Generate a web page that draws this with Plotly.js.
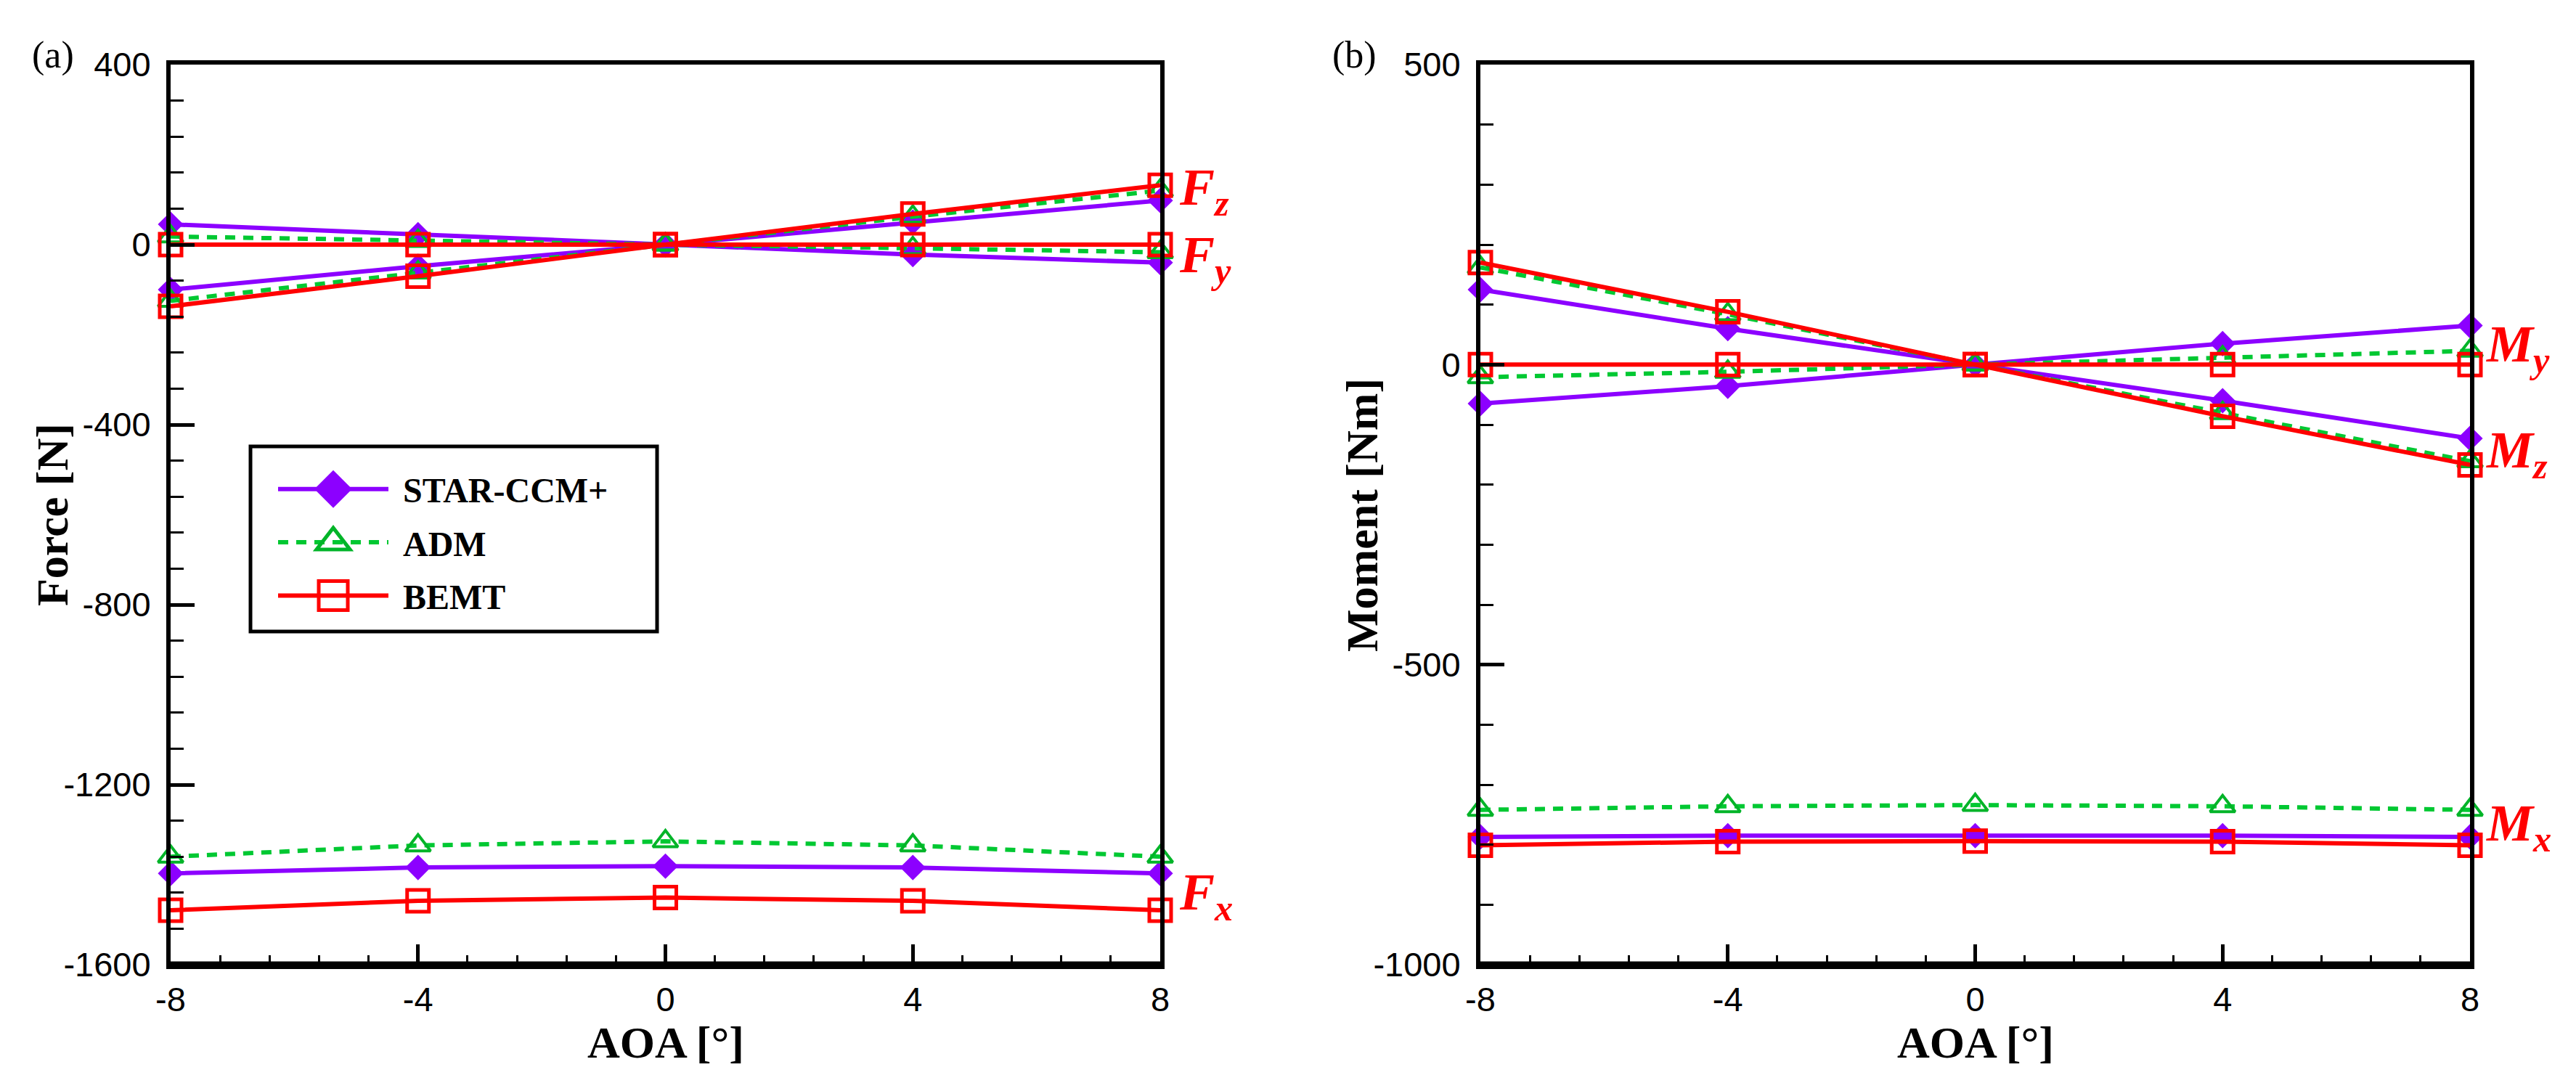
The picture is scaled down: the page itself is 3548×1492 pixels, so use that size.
<!DOCTYPE html>
<html>
<head>
<meta charset="utf-8">
<script src="https://cdn.plot.ly/plotly-3.0.1.min.js"></script>
<style>
  html, body { margin: 0; padding: 0; background: #fff; }
  #chart { width: 3548px; height: 1492px; }
</style>
</head>
<body>
<div id="chart"></div>
<script>
// ---------- data ----------
const aoa = [-8, -4, 0, 4, 8];
const xTickVals = [-8, -4, 0, 4, 8];
const xTickText = ['-8', '-4', '0', '4', '8'];
const forceTickVals = [-1600, -1200, -800, -400, 0, 400];
const forceTickText = ['-1600', '-1200', '-800', '-400', '0', '400'];
const momentTickVals = [-1000, -500, 0, 500];
const momentTickText = ['-1000', '-500', '0', '500'];

// (a) Forces [N]
const starFx = [-1397, -1384, -1381, -1384, -1397];
const admFx  = [-1360, -1335, -1326, -1335, -1360];
const bemtFx = [-1479, -1458, -1451, -1458, -1479];
const starFy = [45, 22, 0, -22, -40];
const admFy  = [18, 8, 0, -8, -17];
const bemtFy = [0, 0, 0, 0, 0];
const starFz = [-100, -48, 0, 50, 98];
const admFz  = [-125, -62, 0, 62, 120];
const bemtFz = [-137, -70, 0, 68, 132];

// (b) Moments [Nm]
const starMx = [-787, -785, -785, -785, -787];
const admMx  = [-742, -736, -734, -736, -742];
const bemtMx = [-801, -795, -794, -795, -801];
const starMy = [-65, -36, 0, 35, 65];
const admMy  = [-21, -12, 0, 12, 23];
const bemtMy = [0, 0, 0, 0, 0];
const starMz = [125, 60, 0, -60, -123];
const admMz  = [162, 84, 0, -81, -161];
const bemtMz = [170, 88, 0, -86, -167];

const forceLabels = ['F<sub>z</sub>', 'F<sub>y</sub>', 'F<sub>x</sub>'];
const forceLabelY = [120, -30, -1447];
const momentLabels = ['M<sub>y</sub>', 'M<sub>z</sub>', 'M<sub>x</sub>'];
const momentLabelY = [28, -148, -770];

// ---------- styles ----------
const PURPLE = '#8C00FF';
const GREEN = '#00C832';
const GREEN_MK = '#00B428';
const RED = '#FF0000';

const styles = {
  'STAR-CCM+': {
    line: {color: PURPLE, width: 6},
    marker: {symbol: 'diamond', size: 27, color: PURPLE, line: {width: 0}}
  },
  'ADM': {
    line: {color: GREEN, width: 6, dash: '14px,11px'},
    marker: {symbol: 'triangle-up-open', size: 30, color: GREEN_MK, line: {width: 4, color: GREEN_MK}}
  },
  'BEMT': {
    line: {color: RED, width: 6},
    marker: {symbol: 'square-open', size: 30, color: RED, line: {width: 5, color: RED}}
  }
};

function mk(name, x, y, xa, ya, show) {
  const s = styles[name];
  return {
    type: 'scatter', x: x, y: y, xaxis: xa, yaxis: ya,
    name: name, legendgroup: name, showlegend: show,
    mode: 'lines+markers', line: s.line, marker: s.marker, cliponaxis: false,
    hoverinfo: 'skip'
  };
}

const traces = [
  mk('STAR-CCM+', aoa, starFx, 'x', 'y', true),
  mk('STAR-CCM+', aoa, starFy, 'x', 'y', false),
  mk('STAR-CCM+', aoa, starFz, 'x', 'y', false),
  mk('ADM', aoa, admFx, 'x', 'y', true),
  mk('ADM', aoa, admFy, 'x', 'y', false),
  mk('ADM', aoa, admFz, 'x', 'y', false),
  mk('BEMT', aoa, bemtFx, 'x', 'y', true),
  mk('BEMT', aoa, bemtFy, 'x', 'y', false),
  mk('BEMT', aoa, bemtFz, 'x', 'y', false),
  mk('STAR-CCM+', aoa, starMx, 'x2', 'y2', false),
  mk('STAR-CCM+', aoa, starMy, 'x2', 'y2', false),
  mk('STAR-CCM+', aoa, starMz, 'x2', 'y2', false),
  mk('ADM', aoa, admMx, 'x2', 'y2', false),
  mk('ADM', aoa, admMy, 'x2', 'y2', false),
  mk('ADM', aoa, admMz, 'x2', 'y2', false),
  mk('BEMT', aoa, bemtMx, 'x2', 'y2', false),
  mk('BEMT', aoa, bemtMy, 'x2', 'y2', false),
  mk('BEMT', aoa, bemtMz, 'x2', 'y2', false)
];

// ---------- layout ----------
const W = 3548, H = 1492;
const SERIF = 'Liberation Serif, Times New Roman, serif';
const tickFont = {family: 'Liberation Sans, Arial, sans-serif', size: 47, color: '#000'};
const titleFont = {family: SERIF, size: 62, color: '#000', weight: 'bold'};

function xAxis(domain, anchor) {
  return {
    domain: domain, anchor: anchor, range: [-8, 8],
    tickmode: 'array', tickvals: xTickVals, ticktext: xTickText,
    ticks: 'inside', ticklen: 28, tickwidth: 5, tickcolor: '#000',
    minor: {dtick: 0.8, tick0: -8, ticks: 'inside', ticklen: 13, tickwidth: 3, tickcolor: '#000', showgrid: false},
    showline: true, linewidth: 6, linecolor: '#000', mirror: true,
    showgrid: false, zeroline: false,
    tickfont: tickFont, ticklabelstandoff: 2,
    automargin: false
  };
}
function yAxis(domain, anchor, range, vals, text, mdtick) {
  return {
    domain: domain, anchor: anchor, range: range,
    tickmode: 'array', tickvals: vals, ticktext: text,
    ticks: 'inside', ticklen: 33, tickwidth: 5, tickcolor: '#000',
    minor: {dtick: mdtick, tick0: 0, ticks: 'inside', ticklen: 18, tickwidth: 3, tickcolor: '#000', showgrid: false},
    showline: true, linewidth: 6, linecolor: '#000', mirror: true,
    showgrid: false, zeroline: false,
    tickfont: tickFont, ticklabelstandoff: 12,
    automargin: false
  };
}

const yDom = [1 - 1329 / H, 1 - 89 / H];
const labelFont = {family: SERIF, size: 72, color: RED, weight: 'bold', style: 'italic'};

const annotations = [];
forceLabels.forEach((t, i) => annotations.push({
  xref: 'x', yref: 'y', x: 8, y: forceLabelY[i], xanchor: 'left', yanchor: 'middle',
  xshift: 24, text: t, showarrow: false, font: labelFont
}));
momentLabels.forEach((t, i) => annotations.push({
  xref: 'x2', yref: 'y2', x: 8, y: momentLabelY[i], xanchor: 'left', yanchor: 'middle',
  xshift: 20, text: t, showarrow: false, font: labelFont
}));
const panelFont = {family: SERIF, size: 52, color: '#000'};
annotations.push({xref: 'paper', yref: 'paper', x: 73 / W, y: 1 - 76 / H, xanchor: 'center', yanchor: 'middle',
  text: '(a)', showarrow: false, font: panelFont});
annotations.push({xref: 'paper', yref: 'paper', x: 1865 / W, y: 1 - 76 / H, xanchor: 'center', yanchor: 'middle',
  text: '(b)', showarrow: false, font: panelFont});
// axis titles
annotations.push({xref: 'x domain', yref: 'paper', x: 0.5, y: 1 - 1436 / H, xanchor: 'center', yanchor: 'middle',
  text: 'AOA [°]', showarrow: false, font: titleFont, borderpad: 0});
annotations.push({xref: 'x2 domain', yref: 'paper', x: 0.5, y: 1 - 1436 / H, xanchor: 'center', yanchor: 'middle',
  text: 'AOA [°]', showarrow: false, font: titleFont, borderpad: 0});
annotations.push({xref: 'paper', yref: 'y domain', x: 72 / W, y: 0.5, xanchor: 'center', yanchor: 'middle',
  textangle: -90, text: 'Force [N]', showarrow: false, font: titleFont});
annotations.push({xref: 'paper', yref: 'y2 domain', x: 1876 / W, y: 0.5, xanchor: 'center', yanchor: 'middle',
  textangle: -90, text: 'Moment [Nm]', showarrow: false, font: titleFont});

const shapes = [
  {type: 'line', xref: 'x domain', yref: 'y domain', x0: 0, x1: 1, y0: 0, y1: 0, line: {color: '#000', width: 9}},
  {type: 'line', xref: 'x2 domain', yref: 'y2 domain', x0: 0, x1: 1, y0: 0, y1: 0, line: {color: '#000', width: 9}},
  // legend frame
  {type: 'rect', xref: 'paper', yref: 'paper', x0: 345 / W, x1: 905 / W, y0: 1 - 870 / H, y1: 1 - 615 / H,
   line: {color: '#000', width: 5}, fillcolor: 'rgba(0,0,0,0)', layer: 'above'}
];

const layout = {
  width: W, height: H,
  margin: {l: 0, r: 0, t: 0, b: 0},
  paper_bgcolor: '#fff', plot_bgcolor: '#fff',
  showlegend: true,
  legend: {
    x: 355 / W, y: 1 - 636 / H, xanchor: 'left', yanchor: 'top',
    bgcolor: 'rgba(0,0,0,0)', borderwidth: 0,
    font: {family: SERIF, size: 48, color: '#000', weight: 'bold'},
    itemwidth: 190, tracegroupgap: 8, itemclick: false, itemdoubleclick: false
  },
  xaxis: xAxis([235 / W, 1598 / W], 'y'),
  yaxis: yAxis(yDom, 'x', [-1600, 400], forceTickVals, forceTickText, 80),
  xaxis2: xAxis([2039 / W, 3402 / W], 'y2'),
  yaxis2: yAxis(yDom, 'x2', [-1000, 500], momentTickVals, momentTickText, 100),
  annotations: annotations,
  shapes: shapes
};

Plotly.newPlot('chart', traces, layout, {staticPlot: true, displayModeBar: false}).then(() => {
  // enlarge legend key glyphs to match the reference (long lines, large symbols)
  const LX0 = 28, LLEN = 152, SC = 2.5;
  document.querySelectorAll('.legend .traces').forEach(tr => {
    tr.querySelectorAll('path.js-line').forEach(p => p.setAttribute('d', 'M' + LX0 + ',0h' + LLEN));
    tr.querySelectorAll('path.scatterpts').forEach(p => {
      p.setAttribute('transform', 'translate(' + (LX0 + LLEN / 2) + ',0) scale(' + SC + ')');
      const sw = parseFloat(p.style.strokeWidth || '0');
      if (sw > 0) p.style.strokeWidth = (5 / SC) + 'px';
    });
  });
});
</script>
</body>
</html>
